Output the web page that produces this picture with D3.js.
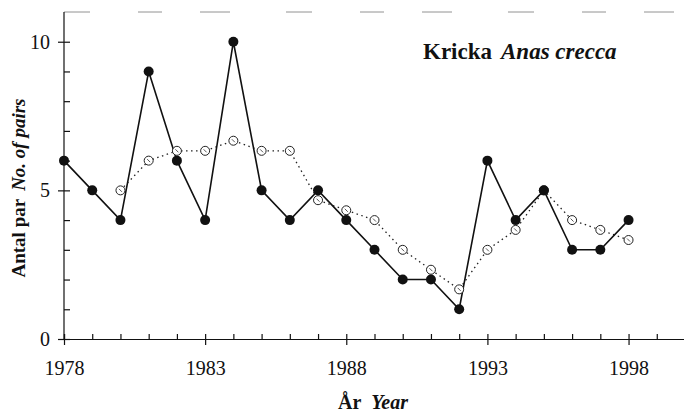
<!DOCTYPE html>
<html>
<head>
<meta charset="utf-8">
<script src="https://cdn.jsdelivr.net/npm/d3@7"></script>
<style>
  body { margin: 0; background: #fff; }
  svg { font-family: "Liberation Serif", "DejaVu Serif", serif; }
</style>
</head>
<body>
<script>
// yearly counts (filled dots) and 3-year running mean (open dots)
let years = [1978, 1979, 1980, 1981, 1982, 1983, 1984, 1985, 1986, 1987, 1988,
             1989, 1990, 1991, 1992, 1993, 1994, 1995, 1996, 1997, 1998];
let pairs = [6, 5, 4, 9, 6, 4, 10, 5, 4, 5, 4, 3, 2, 2, 1, 6, 4, 5, 3, 3, 4];
let meanYears = [1980, 1981, 1982, 1983, 1984, 1985, 1986, 1987, 1988, 1989,
                 1990, 1991, 1992, 1993, 1994, 1995, 1996, 1997, 1998];
let meanPairs = [5, 6, 6.33, 6.33, 6.67, 6.33, 6.33, 4.67, 4.33, 4, 3, 2.33,
                 1.67, 3, 3.67, 5, 4, 3.67, 3.33];
let xMajor = [1978, 1983, 1988, 1993, 1998];
let xMinor = d3.range(1978, 2000);
let yMajor = [0, 5, 10];
let yMinor = d3.range(0, 11);

let width = 684, height = 412;
let mLeft = 64, mRight = 685, mTop = 12, mBottom = 339;

let svg = d3.select("body")
  .append("svg")
  .attr("width", width)
  .attr("height", height);

let x = d3.scaleLinear().domain([1978, 2000]).range([mLeft, mRight]);
let y = d3.scaleLinear().domain([0, 11]).range([mBottom, mTop]);

// faded top frame line (broken up in the scan)
svg.append("line")
  .attr("x1", mLeft).attr("x2", width)
  .attr("y1", mTop).attr("y2", mTop)
  .attr("stroke", "#777")
  .attr("stroke-width", 0.8)
  .attr("stroke-dasharray", "26,48,24,38,30,56");

// x axis
let xMinorAxis = d3.axisBottom(x).tickValues(xMinor).tickSize(-5).tickFormat("");
let xMajorAxis = d3.axisBottom(x).tickValues(xMajor).tickSize(6).tickPadding(16)
  .tickFormat(d3.format("d"));

svg.append("g")
  .attr("transform", `translate(0, ${mBottom})`)
  .call(xMinorAxis);
let gx = svg.append("g")
  .attr("transform", `translate(0, ${mBottom})`)
  .call(xMajorAxis);
gx.select(".domain").remove();
gx.selectAll("text").attr("font-size", 20).attr("font-family", "Liberation Serif")
  .attr("fill", "#111");

// y axis
let yMinorAxis = d3.axisLeft(y).tickValues(yMinor).tickSize(-6).tickFormat("");
let yMajorAxis = d3.axisLeft(y).tickValues(yMajor).tickSize(6).tickPadding(8);

let gyMinor = svg.append("g")
  .attr("transform", `translate(${mLeft}, 0)`)
  .call(yMinorAxis);
gyMinor.select(".domain").attr("d", `M0,${mBottom}V${mTop}`);
let gy = svg.append("g")
  .attr("transform", `translate(${mLeft}, 0)`)
  .call(yMajorAxis);
gy.select(".domain").remove();
gy.selectAll("text").attr("font-size", 20).attr("font-family", "Liberation Serif")
  .attr("fill", "#111");

svg.selectAll(".tick line, .domain").attr("stroke", "#111").attr("stroke-width", 1.2);

// running mean, dotted
let meanData = meanYears.map((d, i) => ({ year: d, v: meanPairs[i] }));
let line = d3.line().x(d => x(d.year)).y(d => y(d.v));

svg.append("path")
  .datum(meanData)
  .attr("d", line)
  .attr("fill", "none")
  .attr("stroke", "#222")
  .attr("stroke-width", 1.3)
  .attr("stroke-dasharray", "1.5,3.5");

// yearly counts, solid
let data = years.map((d, i) => ({ year: d, v: pairs[i] }));
svg.append("path")
  .datum(data)
  .attr("d", line)
  .attr("fill", "none")
  .attr("stroke", "#111")
  .attr("stroke-width", 1.6);

svg.selectAll(".open")
  .data(meanData)
  .enter()
  .append("circle")
  .attr("class", "open")
  .attr("cx", d => x(d.year))
  .attr("cy", d => y(d.v))
  .attr("r", 4.5)
  .attr("fill", "#fff")
  .attr("stroke", "#222")
  .attr("stroke-width", 1);

svg.selectAll(".mark")
  .data(meanData)
  .enter()
  .append("line")
  .attr("class", "mark")
  .attr("x1", d => x(d.year) - 1.5)
  .attr("x2", d => x(d.year) + 1.5)
  .attr("y1", d => y(d.v) - 1.5)
  .attr("y2", d => y(d.v) + 1.5)
  .attr("stroke", "#444")
  .attr("stroke-width", 0.9);

svg.selectAll(".filled")
  .data(data)
  .enter()
  .append("circle")
  .attr("class", "filled")
  .attr("cx", d => x(d.year))
  .attr("cy", d => y(d.v))
  .attr("r", 5)
  .attr("fill", "#111");

// title
let title = svg.append("text")
  .attr("x", 423)
  .attr("y", 59)
  .attr("font-size", 23)
  .attr("font-weight", "bold")
  .attr("fill", "#111");
title.append("tspan").text("Kricka");
title.append("tspan").attr("dx", 9).attr("font-style", "italic").text("Anas crecca");

// axis titles
let xt = svg.append("text")
  .attr("x", 373)
  .attr("y", 409)
  .attr("text-anchor", "middle")
  .attr("font-size", 20)
  .attr("font-weight", "bold")
  .attr("fill", "#111");
xt.append("tspan").text("År");
xt.append("tspan").attr("dx", 10).attr("font-style", "italic").text("Year");

let yt = svg.append("text")
  .attr("transform", "translate(25, 188) rotate(-90)")
  .attr("text-anchor", "middle")
  .attr("font-size", 19)
  .attr("font-weight", "bold")
  .attr("fill", "#111");
yt.append("tspan").text("Antal par");
yt.append("tspan").attr("dx", 8).attr("font-style", "italic").text("No. of pairs");
</script>
</body>
</html>
